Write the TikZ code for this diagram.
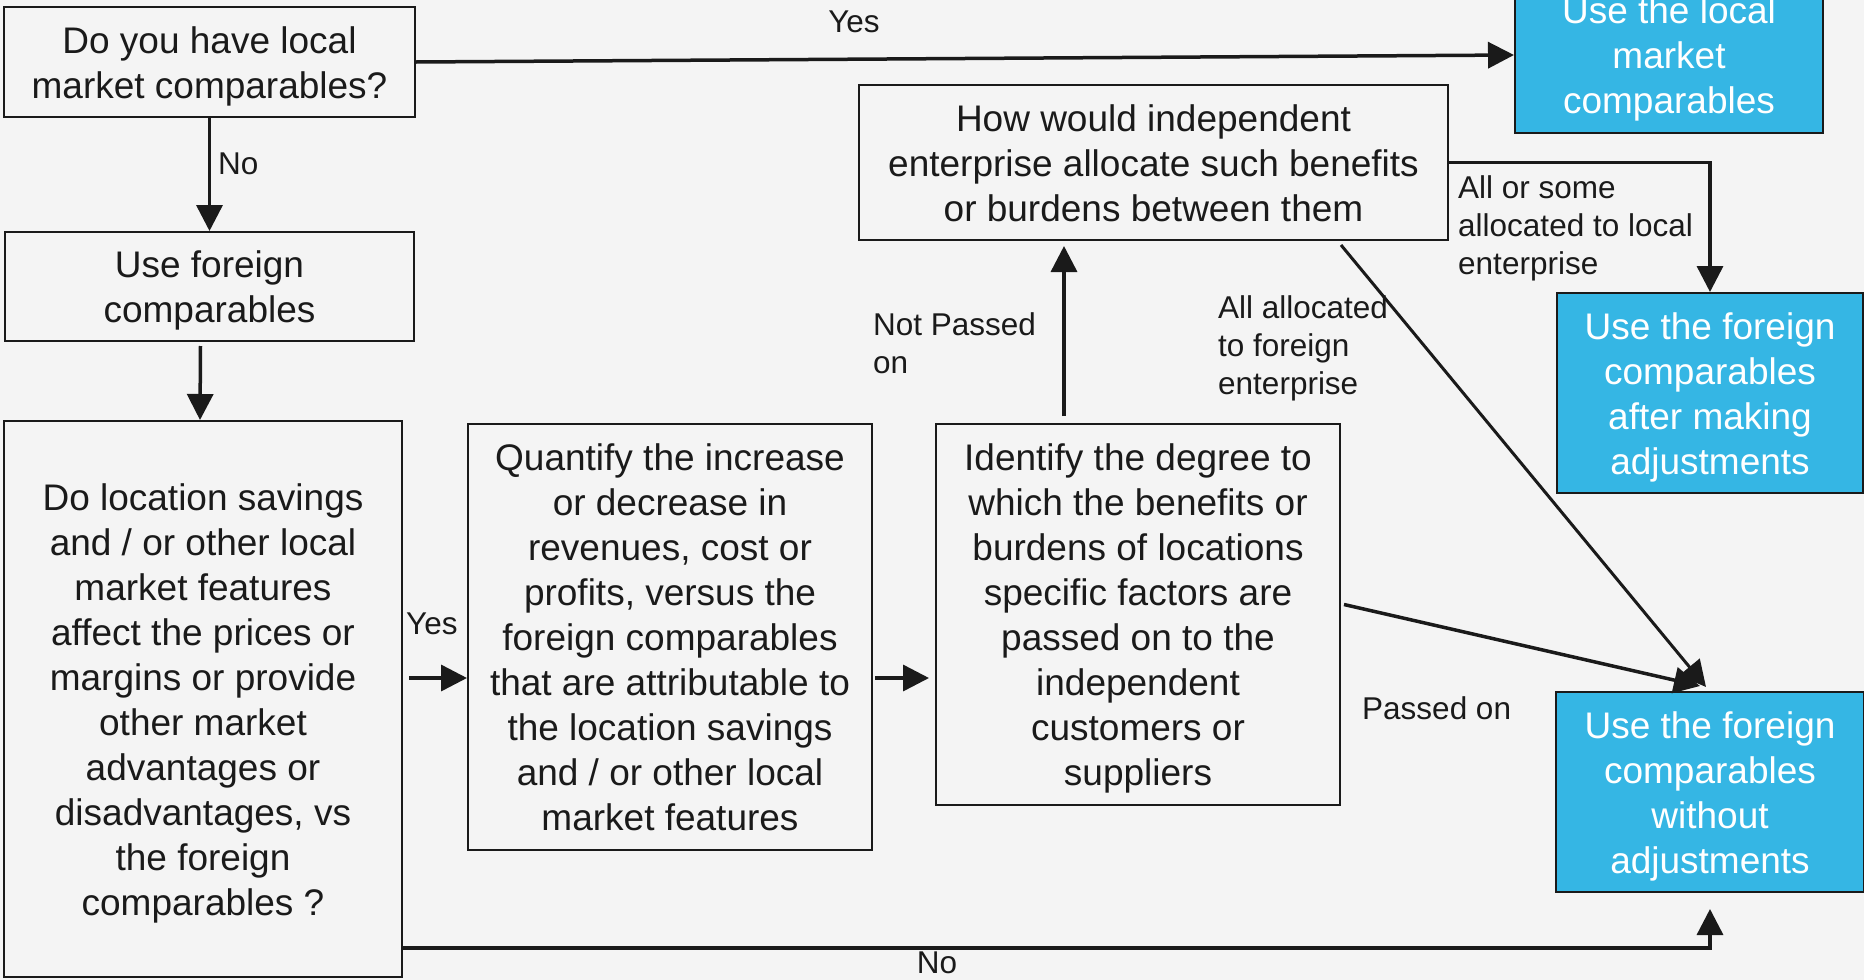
\documentclass[tikz,border=0pt]{standalone}
\usepackage{fontspec}
\setmainfont{Liberation Sans}
\usetikzlibrary{arrows.meta,calc}
\definecolor{bgc}{HTML}{F4F4F4}
\definecolor{bluec}{HTML}{35B6E4}
\definecolor{linec}{HTML}{1A1A1A}
\definecolor{textc}{HTML}{1A1A1A}
\newcommand\boxfont{\fontsize{37}{45}\selectfont}
\newcommand\lblfont{\fontsize{31.5}{38}\selectfont}
\newcommand\bt[1]{\raisebox{-4.5pt}[\height][\depth]{\begin{tabular}{@{}c@{}}#1\end{tabular}}}
\tikzset{
  box/.style={draw=linec, line width=2pt, inner sep=0pt, font=\boxfont, text=textc},
  bluebox/.style={box, fill=bluec, text=white},
  arr/.style={line width=3.5pt, draw=linec, -{Triangle[length=26pt,width=26pt]}},
  lbl/.style={font=\lblfont, text=textc, align=left, inner sep=0pt},
}
\begin{document}
\begin{tikzpicture}[x=1pt,y=-1pt]
\useasboundingbox (0,0) rectangle (1864,980);
\fill[bgc] (0,0) rectangle (1864,980);
\clip (0,0) rectangle (1864,980);

% boxes
\node[box, minimum width=411pt, minimum height=110pt] (A) at (209.5,62) {\bt{Do you have local\\market comparables?}};
\node[box, minimum width=409pt, minimum height=109pt] (B) at (209.5,286.5) {\bt{Use foreign\\comparables}};
\node[box, minimum width=398pt, minimum height=556pt] (C) at (203,699) {\bt{Do location savings\\and / or other local\\market features\\affect the prices or\\margins or provide\\other market\\advantages or\\disadvantages, vs\\the foreign\\comparables ?}};
\node[box, minimum width=404pt, minimum height=426pt] (D) at (670,637) {\bt{Quantify the increase\\or decrease in\\revenues, cost or\\profits, versus the\\foreign comparables\\that are attributable to\\the location savings\\and / or other local\\market features}};
\node[box, minimum width=404pt, minimum height=381pt] (E) at (1138,614.5) {\bt{Identify the degree to\\which the benefits or\\burdens of locations\\specific factors are\\passed on to the\\independent\\customers or\\suppliers}};
\node[box, minimum width=589pt, minimum height=155pt] (F) at (1153.5,162.5) {\bt{How would independent\\enterprise allocate such benefits\\or burdens between them}};
\node[bluebox, minimum width=308pt, minimum height=156pt] (G) at (1669,55) {\bt{Use the local\\market\\comparables}};
\node[bluebox, minimum width=306pt, minimum height=200pt] (H) at (1710,393) {\bt{Use the foreign\\comparables\\after making\\adjustments}};
\node[bluebox, minimum width=308pt, minimum height=200pt] (I) at (1710,792) {\bt{Use the foreign\\comparables\\without\\adjustments}};

% helper coordinates
\coordinate (ymid) at (0,678);
\coordinate (xef) at (1064,0);
\coordinate (ybot) at (0,948);

% connectors
\draw[arr] (A.east) -- (G.west);
\draw[arr] (A.south) -- (B.north);
\draw[arr] ($(B.south)+(-9,4)$) -- ($(C.north)+(-3,0)$);
\draw[arr] ($(C.east |- ymid)+(6,0)$) -- (D.west |- ymid);
\draw[arr] ($(D.east |- ymid)+(2,0)$) -- ($(E.west |- ymid)+(-6,0)$);
\draw[arr] ($(E.north -| xef)+(0,-7)$) -- ($(F.south -| xef)+(0,5)$);
\draw[arr] (F.east) -| (H.north);
\draw[arr, line width=3pt] ($(F.south east)+(-108,4)$) -- ($(I.north)+(-4,-4)$);
\draw[arr] ($(E.east)+(3,-10)$) -- ($(I.north)+(-10,-5)$);
\draw[arr] (C.east |- ybot) -| ($(I.south)+(0,16)$);

% labels
\node[lbl] (lyes1) at (854,22) {Yes};
\node[lbl, anchor=west] (lno1) at (218,164) {No};
\node[lbl, anchor=west] (lyes2) at (406,624) {Yes};
\node[lbl, anchor=west] (lnp) at (873,343) {Not Passed\\on};
\node[lbl, anchor=west] (laf) at (1218,348) {All allocated\\to foreign\\enterprise};
\node[lbl, anchor=west] (lal) at (1458,228) {All or some\\allocated to local\\enterprise};
\node[lbl, anchor=west] (lpo) at (1362,708) {Passed on};
\node[lbl] (lno2) at (937,963) {No};
\end{tikzpicture}
\end{document}
